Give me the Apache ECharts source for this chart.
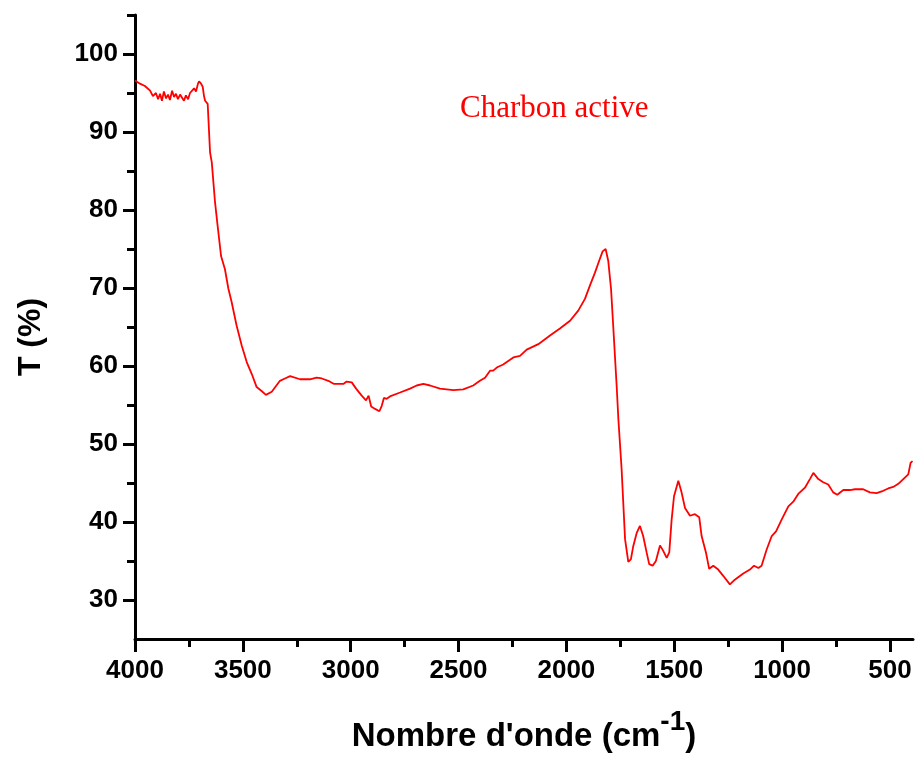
<!DOCTYPE html>
<html>
<head>
<meta charset="utf-8">
<script src="https://cdn.jsdelivr.net/npm/echarts@6/dist/echarts.min.js"></script>
<style>
  html, body { margin: 0; padding: 0; background: #fff; }
  #main { width: 918px; height: 758px; }
</style>
</head>
<body>
<div id="main"></div>
<script>
// spectre IR - nombre d'onde (cm-1) et transmittance (%)
var waveNumber = [
  4000, 3977, 3954, 3930, 3917, 3903, 3893, 3884, 3875, 3866, 3856, 3847, 3838, 3828, 3819,
  3810, 3801, 3791, 3782, 3773, 3764, 3754, 3745, 3736, 3726, 3717, 3708, 3703, 3694, 3686,
  3680, 3675, 3663, 3652, 3644, 3629, 3617, 3601, 3583, 3567, 3552, 3529, 3505, 3482, 3459,
  3436, 3413, 3393, 3366, 3328, 3305, 3281, 3235, 3189, 3158, 3134, 3104, 3077, 3034, 3019,
  2995, 2975, 2949, 2929, 2917, 2905, 2887, 2867, 2856, 2846, 2833, 2818, 2771, 2725, 2694,
  2663, 2632, 2586, 2524, 2478, 2432, 2401, 2377, 2354, 2339, 2323, 2293, 2246, 2215, 2184,
  2130, 2076, 2030, 1983, 1945, 1914, 1891, 1867, 1848, 1832, 1818, 1806, 1793, 1783, 1767,
  1759, 1744, 1728, 1713, 1701, 1690, 1674, 1659, 1644, 1628, 1616, 1600, 1585, 1566, 1551,
  1535, 1523, 1512, 1501, 1481, 1466, 1450, 1427, 1404, 1384, 1373, 1353, 1338, 1319, 1296,
  1273, 1242, 1219, 1180, 1149, 1130, 1110, 1095, 1071, 1048, 1028, 1002, 971, 948, 925,
  894, 871, 855, 832, 809, 786, 763, 744, 716, 685, 662, 624, 593, 562, 531,
  508, 485, 461, 438, 415, 404, 395
];
var transmittance = [
  96.6, 96.2, 95.9, 95.3, 94.6, 95.0, 94.2, 94.9, 94.0, 95.2, 94.3, 94.8, 94.1, 95.3, 94.5,
  94.9, 94.2, 94.8, 94.6, 94.0, 94.7, 94.2, 95.0, 95.2, 95.6, 95.2, 96.2, 96.5, 96.2, 95.8,
  94.6, 94.0, 93.6, 87.4, 86.1, 81.0, 78.0, 74.1, 72.4, 69.9, 68.2, 65.2, 62.6, 60.5, 59.0,
  57.3, 56.8, 56.3, 56.7, 58.1, 58.4, 58.7, 58.3, 58.3, 58.5, 58.4, 58.1, 57.7, 57.7, 58.0,
  57.9, 57.1, 56.2, 55.6, 56.2, 54.8, 54.5, 54.2, 54.9, 55.9, 55.8, 56.1, 56.6, 57.1, 57.5,
  57.7, 57.5, 57.1, 56.9, 57.0, 57.5, 58.1, 58.5, 59.4, 59.4, 59.8, 60.2, 61.1, 61.3, 62.1,
  62.8, 63.9, 64.8, 65.8, 67.1, 68.6, 70.3, 72.0, 73.5, 74.7, 75.0, 73.5, 69.9, 65.2, 57.5,
  53.2, 46.8, 37.8, 34.9, 35.2, 36.9, 38.6, 39.5, 38.2, 36.1, 34.6, 34.4, 35.0, 37.0, 36.3,
  35.4, 36.1, 40.3, 43.3, 45.3, 43.8, 41.8, 40.8, 41.0, 40.6, 38.2, 36.1, 34.0, 34.4, 33.9,
  33.1, 32.0, 32.6, 33.4, 33.9, 34.4, 34.1, 34.4, 36.5, 38.2, 38.8, 40.3, 42.0, 42.6, 43.6,
  44.4, 45.5, 46.3, 45.5, 45.1, 44.8, 43.8, 43.5, 44.1, 44.1, 44.2, 44.2, 43.8, 43.7, 44.0,
  44.3, 44.5, 44.9, 45.5, 46.1, 47.6, 47.8
];
// graduations
var xMajorTicks = [4000, 3500, 3000, 2500, 2000, 1500, 1000, 500];
var xMinorTicks = [3750, 3250, 2750, 2250, 1750, 1250, 750];
var yMajorTicks = [30, 40, 50, 60, 70, 80, 90, 100];
var yMinorTicks = [35, 45, 55, 65, 75, 85, 95, 105];

var font = "'Liberation Sans', Arial, sans-serif";
var myChart = echarts.init(document.getElementById("main"));

myChart.setOption({
  animation: false,
  title: {
    text: "Charbon active",
    left: 455,
    top: 88,
    textStyle: {
      fontFamily: "'Liberation Serif', 'Times New Roman', serif",
      fontSize: 31,
      fontWeight: "normal",
      color: "#ff0000",
    },
  },
  grid: {
    left: 135,
    right: 5,
    top: 15,
    bottom: 119,
    outerBoundsMode: "none",
  },
  xAxis: [
    {
      type: "value",
      inverse: true,
      min: 393,
      max: 4000,
      position: "bottom",
      axisLine: { onZero: false, lineStyle: { color: "#000", width: 3 } },
      axisTick: { customValues: xMajorTicks, length: 13, lineStyle: { color: "#000", width: 3 } },
      axisLabel: {
        customValues: xMajorTicks,
        formatter: (v) => String(v),
        margin: 19,
        color: "#000",
        fontSize: 26,
        fontWeight: "bold",
        fontFamily: font,
      },
      splitLine: { show: false },
      name: "Nombre d'onde (cm{sup|-1})",
      nameLocation: "middle",
      nameGap: 69,
      nameTextStyle: {
        color: "#000",
        fontSize: 33,
        fontWeight: "bold",
        fontFamily: font,
        rich: {
          sup: {
            color: "#000",
            fontSize: 28,
            fontWeight: "bold",
            fontFamily: font,
            padding: [0, 0, 30, 0],
          },
        },
      },
    },
    {
      // petites graduations
      type: "value",
      inverse: true,
      min: 393,
      max: 4000,
      position: "bottom",
      axisLine: { show: false, onZero: false },
      axisTick: { customValues: xMinorTicks, length: 8, lineStyle: { color: "#000", width: 3 } },
      axisLabel: { show: false },
      splitLine: { show: false },
    },
  ],
  yAxis: [
    {
      type: "value",
      min: 25,
      max: 105,
      position: "left",
      axisLine: { show: true, onZero: false, lineStyle: { color: "#000", width: 3 } },
      axisTick: { show: true, customValues: yMajorTicks, length: 12, lineStyle: { color: "#000", width: 3 } },
      axisLabel: {
        customValues: yMajorTicks,
        margin: 17,
        color: "#000",
        fontSize: 26,
        fontWeight: "bold",
        fontFamily: font,
      },
      splitLine: { show: false },
      name: "T (%)",
      nameLocation: "middle",
      nameGap: 88,
      nameTextStyle: {
        color: "#000",
        fontSize: 32,
        fontWeight: "bold",
        fontFamily: font,
        padding: [0, 20, 0, 0],
      },
    },
    {
      type: "value",
      min: 25,
      max: 105,
      position: "left",
      offset: 0,
      axisLine: { show: false, onZero: false },
      axisTick: { show: true, customValues: yMinorTicks, length: 8, lineStyle: { color: "#000", width: 3 } },
      axisLabel: { show: false },
      splitLine: { show: false },
    },
  ],
  series: [
    {
      type: "line",
      xAxisIndex: 0,
      yAxisIndex: 0,
      data: waveNumber.map((w, i) => [w, transmittance[i]]),
      showSymbol: false,
      lineStyle: { color: "#ff0000", width: 1.8 },
      itemStyle: { color: "#ff0000" },
    },
  ],
});
</script>
</body>
</html>
